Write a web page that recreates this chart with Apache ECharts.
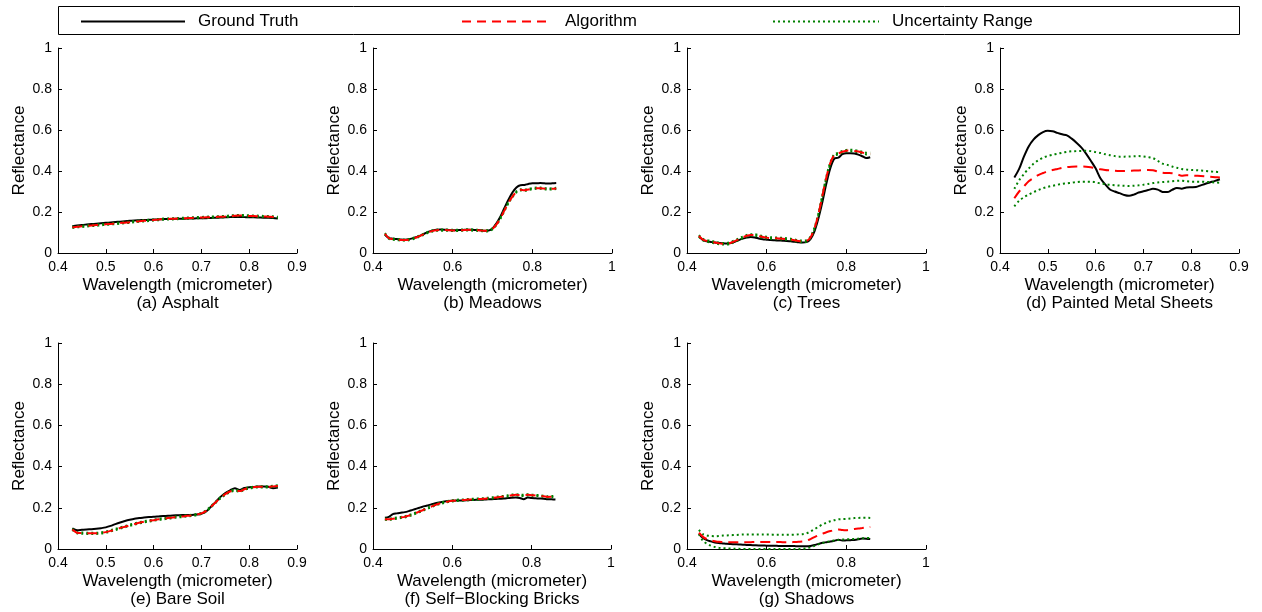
<!DOCTYPE html>
<html><head><meta charset="utf-8">
<script src="https://cdn.jsdelivr.net/npm/echarts@6/dist/echarts.min.js"></script>
<style>html,body{margin:0;padding:0;background:#fff}#c{width:1262px;height:612px}</style>
</head><body><div id="c"></div>
<script>
// ---- data ----
const wavelength = [0.43,0.44,0.45,0.46,0.47,0.48,0.49,0.50,0.51,0.52,0.53,0.54,0.55,0.56,0.57,0.58,0.59,0.60,0.61,0.62,0.63,0.64,0.65,0.66,0.67,0.68,0.69,0.70,0.71,0.72,0.73,0.74,0.75,0.76,0.77,0.78,0.79,0.80,0.81,0.82,0.83,0.84,0.85,0.86];

const gtAsphalt  = [.130,.134,.137,.139,.141,.143,.145,.147,.149,.151,.153,.155,.157,.159,.160,.161,.162,.163,.164,.165,.166,.166,.167,.167,.168,.168,.169,.169,.170,.171,.172,.173,.174,.175,.176,.176,.175,.174,.174,.173,.172,.172,.171,.168];
const algAsphalt = [.125,.128,.130,.132,.134,.136,.138,.140,.142,.144,.146,.148,.150,.153,.155,.157,.159,.161,.163,.165,.166,.167,.168,.169,.170,.171,.172,.173,.174,.175,.176,.177,.178,.180,.182,.183,.182,.181,.180,.179,.178,.177,.176,.174];
const upAsphalt  = [.128,.131,.133,.135,.137,.139,.141,.143,.145,.147,.149,.151,.153,.156,.158,.160,.162,.164,.166,.168,.169,.170,.171,.172,.173,.174,.175,.176,.177,.178,.179,.180,.181,.183,.185,.186,.185,.184,.183,.182,.181,.180,.179,.177];
const loAsphalt  = [.122,.125,.127,.129,.131,.133,.135,.137,.139,.141,.143,.145,.147,.150,.152,.154,.156,.158,.160,.162,.163,.164,.165,.166,.167,.168,.169,.170,.171,.172,.173,.174,.175,.177,.179,.180,.179,.178,.177,.176,.175,.174,.173,.171];

const gtMeadows  = [.089,.073,.070,.068,.066,.065,.067,.072,.078,.086,.095,.104,.110,.114,.115,.114,.112,.111,.111,.112,.113,.114,.113,.112,.111,.109,.110,.120,.145,.178,.220,.260,.295,.320,.331,.332,.337,.340,.340,.341,.340,.339,.340,.341];
const algMeadows = [.094,.072,.068,.066,.064,.063,.065,.070,.077,.085,.094,.102,.108,.111,.112,.112,.111,.110,.110,.111,.112,.113,.112,.111,.110,.108,.110,.118,.140,.170,.208,.245,.275,.298,.308,.306,.310,.314,.316,.316,.314,.312,.313,.315];
const upMeadows  = [.097,.075,.071,.069,.067,.066,.068,.073,.080,.088,.097,.105,.111,.114,.115,.115,.114,.113,.113,.114,.115,.116,.115,.114,.113,.111,.113,.121,.143,.173,.211,.248,.278,.301,.311,.309,.313,.317,.319,.319,.317,.315,.316,.318];
const loMeadows  = [.091,.069,.065,.063,.061,.060,.062,.067,.074,.082,.091,.099,.105,.108,.109,.109,.108,.107,.107,.108,.109,.110,.109,.108,.107,.105,.107,.115,.137,.167,.205,.242,.272,.295,.305,.303,.307,.311,.313,.313,.311,.309,.310,.312];

const gtTrees  = [.081,.063,.057,.054,.051,.049,.047,.046,.049,.055,.063,.070,.075,.078,.076,.071,.067,.065,.063,.062,.061,.060,.059,.057,.055,.052,.051,.053,.068,.106,.170,.250,.340,.415,.460,.465,.482,.487,.487,.485,.480,.472,.463,.467];
const algTrees = [.083,.065,.059,.055,.051,.047,.045,.045,.050,.058,.067,.076,.084,.088,.088,.083,.078,.075,.073,.072,.071,.070,.068,.066,.062,.058,.057,.059,.076,.120,.190,.280,.370,.440,.478,.485,.494,.499,.500,.498,.495,.490,.485,.484];
const upTrees  = [.087,.069,.063,.059,.055,.051,.049,.049,.054,.062,.071,.080,.088,.092,.092,.087,.082,.079,.077,.076,.075,.074,.072,.070,.066,.062,.061,.063,.080,.124,.194,.284,.374,.444,.482,.489,.498,.503,.504,.502,.499,.494,.489,.490];
const loTrees  = [.079,.061,.055,.051,.047,.043,.041,.041,.046,.054,.063,.072,.080,.084,.084,.079,.074,.071,.069,.068,.067,.066,.064,.062,.058,.054,.053,.055,.072,.116,.186,.276,.366,.436,.474,.481,.490,.495,.496,.494,.491,.486,.481,.480];

const gtMetal  = [.368,.410,.470,.520,.553,.575,.590,.596,.594,.586,.579,.574,.558,.538,.515,.485,.450,.413,.365,.335,.310,.300,.292,.283,.279,.285,.295,.301,.307,.313,.309,.298,.297,.308,.317,.314,.320,.321,.322,.330,.338,.345,.352,.360];
const algMetal = [.267,.300,.325,.350,.366,.380,.390,.399,.405,.410,.415,.419,.421,.422,.422,.421,.418,.413,.408,.405,.403,.401,.400,.400,.401,.402,.403,.404,.405,.404,.397,.392,.390,.389,.385,.377,.379,.378,.377,.376,.374,.372,.370,.368];
const upMetal  = [.313,.355,.385,.412,.435,.452,.465,.473,.479,.484,.489,.493,.496,.497,.498,.499,.497,.492,.488,.482,.477,.473,.470,.470,.471,.472,.473,.471,.468,.463,.450,.436,.430,.422,.416,.410,.407,.405,.404,.402,.400,.398,.396,.395];
const loMetal  = [.227,.255,.272,.285,.297,.307,.316,.323,.328,.333,.337,.340,.343,.346,.348,.348,.348,.345,.339,.336,.333,.331,.329,.328,.327,.328,.330,.333,.337,.341,.344,.346,.348,.350,.352,.353,.350,.348,.348,.348,.347,.346,.344,.343];

const gtSoil  = [.100,.091,.093,.095,.096,.098,.101,.105,.112,.121,.129,.136,.142,.147,.150,.153,.155,.156,.158,.160,.161,.163,.164,.165,.165,.165,.167,.171,.182,.205,.229,.253,.272,.285,.295,.286,.296,.300,.301,.303,.303,.302,.295,.298];
const algSoil = [.095,.079,.077,.076,.076,.076,.078,.082,.088,.095,.102,.108,.115,.121,.127,.132,.136,.140,.144,.147,.150,.153,.156,.158,.161,.163,.167,.173,.185,.205,.227,.248,.266,.279,.285,.281,.290,.297,.300,.302,.302,.302,.304,.306];
const upSoil  = [.098,.082,.080,.079,.079,.079,.081,.085,.091,.098,.105,.111,.118,.124,.130,.135,.139,.143,.147,.150,.153,.156,.159,.161,.164,.166,.170,.176,.188,.208,.230,.251,.269,.282,.288,.284,.293,.300,.303,.305,.305,.305,.307,.309];
const loSoil  = [.092,.076,.074,.073,.073,.073,.075,.079,.085,.092,.099,.105,.112,.118,.124,.129,.133,.137,.141,.144,.147,.150,.153,.155,.158,.160,.164,.170,.182,.202,.224,.245,.263,.276,.282,.278,.287,.294,.297,.299,.299,.299,.301,.303];

const gtBricks  = [.152,.156,.169,.173,.176,.179,.184,.190,.196,.202,.208,.213,.218,.223,.227,.231,.233,.234,.235,.235,.236,.237,.238,.239,.239,.240,.241,.242,.243,.244,.245,.247,.249,.250,.248,.242,.250,.247,.246,.245,.244,.242,.241,.240];
const algBricks = [.145,.144,.147,.150,.153,.156,.162,.168,.176,.184,.192,.200,.208,.216,.222,.227,.231,.234,.236,.237,.238,.240,.241,.242,.243,.244,.246,.248,.250,.253,.255,.258,.261,.263,.261,.260,.263,.261,.260,.258,.256,.253,.254,.255];
const upBricks  = [.148,.147,.150,.153,.156,.159,.165,.171,.179,.187,.195,.203,.211,.219,.225,.230,.234,.237,.239,.240,.241,.243,.244,.245,.246,.247,.249,.251,.253,.256,.258,.261,.264,.266,.264,.263,.266,.264,.263,.261,.259,.256,.257,.258];
const loBricks  = [.142,.141,.144,.147,.150,.153,.159,.165,.173,.181,.189,.197,.205,.213,.219,.224,.228,.231,.233,.234,.235,.237,.238,.239,.240,.241,.243,.245,.247,.250,.252,.255,.258,.260,.258,.257,.260,.258,.257,.255,.253,.250,.251,.252];

const gtShadows  = [.074,.053,.043,.037,.032,.029,.027,.025,.024,.023,.022,.021,.020,.019,.018,.017,.017,.016,.016,.016,.015,.015,.015,.015,.014,.013,.013,.013,.015,.019,.025,.030,.033,.036,.040,.045,.041,.042,.043,.044,.047,.051,.050,.048];
const algShadows = [.079,.059,.048,.042,.038,.035,.034,.033,.033,.033,.033,.033,.033,.033,.034,.034,.034,.034,.034,.034,.034,.033,.033,.033,.034,.035,.036,.040,.048,.058,.067,.074,.081,.087,.092,.095,.092,.091,.094,.097,.099,.102,.105,.107];
const upShadows  = [.093,.072,.066,.063,.062,.063,.065,.066,.067,.068,.069,.070,.070,.070,.070,.070,.070,.070,.070,.069,.069,.069,.069,.069,.070,.071,.072,.076,.085,.096,.108,.119,.128,.135,.140,.144,.145,.146,.148,.150,.151,.152,.152,.151];
const loShadows  = [.072,.040,.026,.016,.010,.006,.004,.003,.002,.001,.001,.000,.000,.000,.000,.000,.000,.000,.000,.000,.000,.000,.000,.000,.000,.000,.001,.003,.008,.015,.023,.029,.034,.038,.041,.044,.046,.047,.048,.049,.050,.052,.053,.054];

const panelLabels = ['(a) Asphalt','(b) Meadows','(c) Trees','(d) Painted Metal Sheets','(e) Bare Soil','(f) Self\u2212Blocking Bricks','(g) Shadows'];
const seriesNames = ['Ground Truth','Algorithm','Uncertainty Range'];
const xTickMax = [0.9, 1, 1, 0.9, 0.9, 1, 1];
const xTickStep = [0.1, 0.2, 0.2, 0.1, 0.1, 0.2, 0.2];
const yTicks = {min: 0, max: 1, step: 0.2};

// ---- layout ----
const FONT = '"Liberation Sans", Arial, Helvetica, sans-serif';
const layout = [
  {left: 58,   top: 48,  w: 239, h: 205},
  {left: 373,  top: 48,  w: 239, h: 205},
  {left: 687,  top: 48,  w: 239, h: 205},
  {left: 1000, top: 48,  w: 239, h: 205},
  {left: 58,   top: 343, w: 239, h: 206},
  {left: 373,  top: 343, w: 238, h: 206},
  {left: 687,  top: 343, w: 239, h: 206}
];
const panelData = [
  [gtAsphalt, algAsphalt, upAsphalt, loAsphalt],
  [gtMeadows, algMeadows, upMeadows, loMeadows],
  [gtTrees, algTrees, upTrees, loTrees],
  [gtMetal, algMetal, upMetal, loMetal],
  [gtSoil, algSoil, upSoil, loSoil],
  [gtBricks, algBricks, upBricks, loBricks],
  [gtShadows, algShadows, upShadows, loShadows]
];

const styles = {
  gt:  {color: '#000000', width: 2, type: 'solid'},
  alg: {color: '#ff0000', width: 2, type: [10, 6]},
  unc: {color: '#008000', width: 2, type: [2, 3]}
};

const grids = [], xAxes = [], yAxes = [], series = [], graphics = [];
const pts = arr => wavelength.map((x, k) => [x, arr[k]]);

layout.forEach((L, i) => {
  grids.push({left: L.left, top: L.top, width: L.w, height: L.h, containLabel: false});
  xAxes.push({
    type: 'value', gridIndex: i, min: 0.4, max: xTickMax[i], interval: xTickStep[i],
    axisLine: {show: true, onZero: false, lineStyle: {color: '#000', width: 1}},
    axisTick: {show: true, inside: true, length: 4, lineStyle: {color: '#000'}},
    axisLabel: {color: '#000', fontSize: 14, fontFamily: FONT, margin: 7},
    splitLine: {show: false},
    name: 'Wavelength (micrometer)', nameLocation: 'middle', nameGap: 24,
    nameTextStyle: {color: '#000', fontSize: 17, fontFamily: FONT}
  });
  yAxes.push({
    type: 'value', gridIndex: i, min: yTicks.min, max: yTicks.max, interval: yTicks.step,
    axisLine: {show: true, lineStyle: {color: '#000', width: 1}},
    axisTick: {show: true, inside: true, length: 4, lineStyle: {color: '#000'}},
    axisLabel: {color: '#000', fontSize: 14, fontFamily: FONT, margin: 6},
    splitLine: {show: false},
    name: 'Reflectance', nameLocation: 'middle', nameGap: 30, nameRotate: 90,
    nameTextStyle: {color: '#000', fontSize: 17, fontFamily: FONT}
  });
  const [gt, alg, up, lo] = panelData[i];
  const common = {type: 'line', xAxisIndex: i, yAxisIndex: i, symbol: 'none', smooth: 0.3, silent: true, animation: false};
  series.push(Object.assign({}, common, {name: seriesNames[0], data: pts(gt), lineStyle: styles.gt, itemStyle: {color: styles.gt.color}, z: 2}));
  series.push(Object.assign({}, common, {name: seriesNames[2], data: pts(up), lineStyle: styles.unc, itemStyle: {color: styles.unc.color}, z: 3}));
  series.push(Object.assign({}, common, {name: seriesNames[2], data: pts(lo), lineStyle: styles.unc, itemStyle: {color: styles.unc.color}, z: 3}));
  series.push(Object.assign({}, common, {name: seriesNames[1], data: pts(alg), lineStyle: styles.alg, itemStyle: {color: styles.alg.color}, z: 4}));
  graphics.push({
    type: 'text', x: L.left + L.w / 2, y: L.top + L.h + 50.5,
    style: {text: panelLabels[i], fontSize: 17, fontFamily: FONT, fill: '#000', align: 'center', verticalAlign: 'middle'}
  });
});

graphics.push({type: 'rect', shape: {x: 58.5, y: 6.5, width: 1181, height: 28}, style: {fill: 'none', stroke: '#000', lineWidth: 1}, z: 0});

const legendBase = {
  top: 8, itemHeight: 14, selectedMode: false,
  itemStyle: {opacity: 0},
  textStyle: {color: '#000', fontSize: 17, fontFamily: FONT, padding: [0, 0, 0, 8]}
};
const legends = [
  Object.assign({}, legendBase, {data: [seriesNames[0]], left: 75, itemWidth: 104, lineStyle: {color: styles.gt.color, width: 2, type: 'solid'}}),
  Object.assign({}, legendBase, {data: [seriesNames[1]], left: 456, itemWidth: 90, lineStyle: {color: styles.alg.color, width: 2, type: [9, 6]}}),
  Object.assign({}, legendBase, {data: [seriesNames[2]], left: 767, itemWidth: 106, lineStyle: {color: styles.unc.color, width: 2, type: [2, 3]}})
];

const chart = echarts.init(document.getElementById('c'), null, {renderer: 'canvas'});
chart.setOption({
  backgroundColor: '#fff',
  animation: false,
  grid: grids, xAxis: xAxes, yAxis: yAxes, series: series,
  legend: legends,
  graphic: graphics
});
</script></body></html>
